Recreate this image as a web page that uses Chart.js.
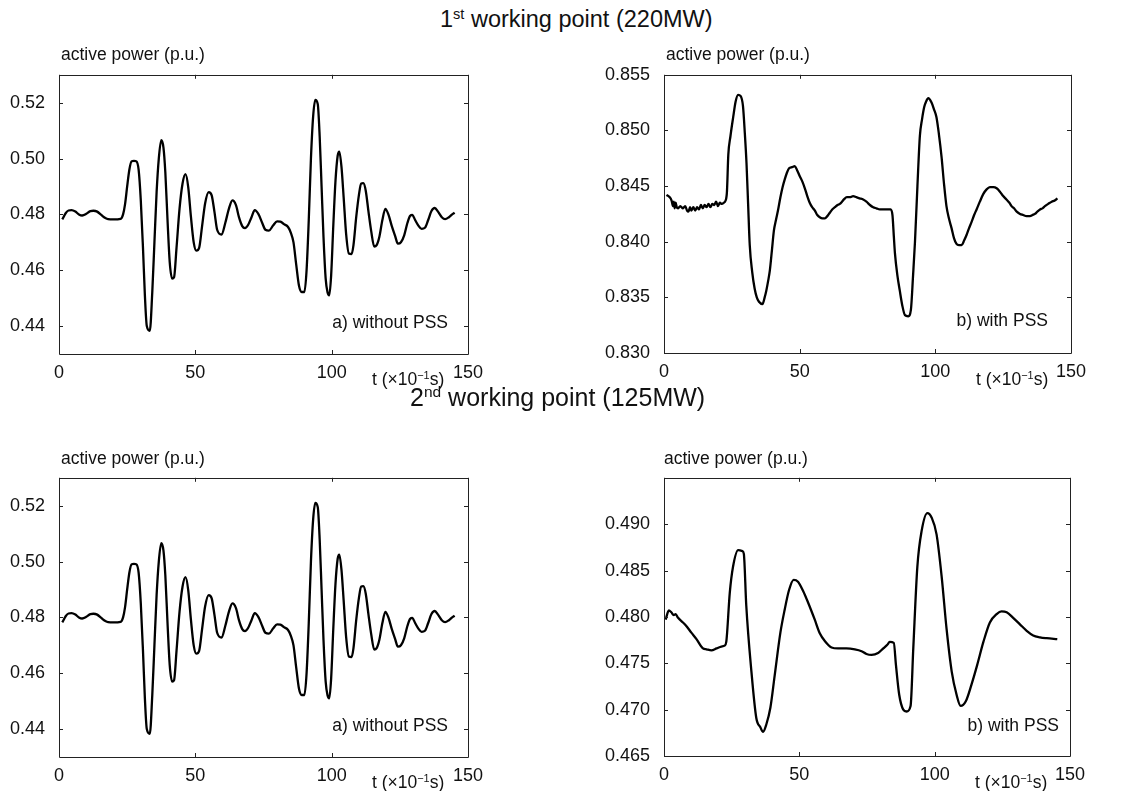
<!DOCTYPE html>
<html>
<head>
<meta charset="utf-8">
<script src="https://cdn.jsdelivr.net/npm/chart.js@4.4.1/dist/chart.umd.min.js"></script>
<style>
  html, body { margin: 0; padding: 0; background: #fff; }
  body { width: 1133px; height: 791px; position: relative; overflow: hidden;
         font-family: "Liberation Sans", Arial, Helvetica, sans-serif; color: #111; }
  .cv { position: absolute; }
  .txt { position: absolute; white-space: nowrap; line-height: 1; }
  .lab { font-size: 17.5px; }
  sup { font-size: 0.62em; vertical-align: 0; position: relative; top: -0.55em; }
</style>
</head>
<body>
<canvas id="c1" class="cv"></canvas>
<canvas id="c2" class="cv"></canvas>
<canvas id="c3" class="cv"></canvas>
<canvas id="c4" class="cv"></canvas>

<div class="txt" style="left:440px; top:8px; font-size:23.5px;">1<sup>st</sup> working point (220MW)</div>
<div class="txt" style="left:410px; top:385px; font-size:25px;">2<sup>nd</sup> working point (125MW)</div>

<div class="txt lab" style="left:61px; top:46px;">active power (p.u.)</div>
<div class="txt lab" style="left:666px; top:46px;">active power (p.u.)</div>
<div class="txt lab" style="left:61px; top:450px;">active power (p.u.)</div>
<div class="txt lab" style="left:664px; top:450px;">active power (p.u.)</div>

<div class="txt lab" style="left:372px; top:371px;">t (×10<sup>−1</sup>s)</div>
<div class="txt lab" style="left:976px; top:371px;">t (×10<sup>−1</sup>s)</div>
<div class="txt lab" style="left:372px; top:774px;">t (×10<sup>−1</sup>s)</div>
<div class="txt lab" style="left:975px; top:774px;">t (×10<sup>−1</sup>s)</div>

<div class="txt lab" style="right:685px; top:314px;">a) without PSS</div>
<div class="txt lab" style="right:85px; top:312px;">b) with PSS</div>
<div class="txt lab" style="right:685px; top:717px;">a) without PSS</div>
<div class="txt lab" style="right:74px; top:717px;">b) with PSS</div>

<script>
// ---------------- DATA ----------------
// time axis ticks (x10^-1 s)
const xTicks = [0, 50, 100, 150];

// Panel a) 220MW / 125MW without PSS (both panels show the same response)
const tA = [1.2, 2.5, 3.5, 4.6, 6, 7.3, 8.5, 10, 11.5, 12.6, 14, 15.5, 17, 18, 20, 22.6, 23.5, 24.2, 25, 25.8, 26.6, 27.5, 28.4,
  29.2, 30, 30.8, 31.5, 32.2, 33.3, 34.2, 35, 35.8, 36.6, 37.5, 38.3, 39, 39.8, 40.6, 41.5, 42.2,
  43.1, 44.2, 45.3, 46.4, 47.4, 48.4, 49.4, 50.4, 51.4, 52.5, 53.6, 54.9, 56, 57, 58, 59.6, 61, 62.3, 63.6, 64.9, 66, 67.2, 68.2, 69.4,
  70.6, 71.8, 73.2, 74.5, 75.7, 77, 78.5, 80, 81.2, 82.5, 84, 85, 86, 87, 88, 89, 90, 90.8, 91.6, 92.4, 93.2, 94, 94.9, 95.6, 96.3, 97,
  97.8, 98.5, 99.1, 99.8, 100.6, 101.4, 102.2, 102.8, 103.6, 104.4, 105.3, 106.3, 107.3, 108, 109, 110, 110.8, 111.6, 112.5, 113.5,
  114.5, 115.6, 116.5, 117.5, 118.6, 119.7, 120.8, 122, 123.2, 124.3, 125.4, 126.6, 127.8, 128.8, 129.6, 130.6, 131.8, 133, 134.2,
  135.4, 136.6, 137.8, 139, 140.4, 141.6, 143, 144.2, 145.1];
const pA = [0.4782, 0.4805, 0.4814, 0.4815, 0.4810, 0.4800, 0.4796, 0.4802, 0.4812, 0.4813, 0.4810, 0.4798, 0.4787, 0.4783, 0.4782, 0.4784, 0.4800, 0.4835, 0.4900, 0.4960, 0.4990, 0.4992, 0.4990,
  0.4960, 0.4850, 0.4680, 0.4510, 0.4400, 0.4383, 0.4520, 0.4700, 0.4880, 0.5000, 0.5066, 0.5040, 0.4950, 0.4780, 0.4630, 0.4570, 0.4575,
  0.4680, 0.4820, 0.4910, 0.4944, 0.4897, 0.4790, 0.4700, 0.4670, 0.4680, 0.4760, 0.4840, 0.4880, 0.4868, 0.4810, 0.4745, 0.4728, 0.4770, 0.4820, 0.4850, 0.4833, 0.4790, 0.4758, 0.4751, 0.4763,
  0.4790, 0.4815, 0.4800, 0.4770, 0.4745, 0.4742, 0.4760, 0.4775, 0.4774, 0.4765, 0.4755, 0.4735, 0.4700, 0.4620, 0.4545, 0.4522, 0.4522, 0.4600, 0.4780, 0.5000, 0.5150, 0.5210, 0.5195, 0.5080, 0.4900, 0.4720,
  0.4570, 0.4520, 0.4510, 0.4580, 0.4760, 0.4920, 0.5010, 0.5025, 0.4970, 0.4860, 0.4730, 0.4660, 0.4658, 0.4690, 0.4790, 0.4870, 0.4910, 0.4912, 0.4885, 0.4810,
  0.4740, 0.4685, 0.4690, 0.4720, 0.4780, 0.4820, 0.4800, 0.4760, 0.4725, 0.4695, 0.4700, 0.4725, 0.4770, 0.4795, 0.4798, 0.4780, 0.4760, 0.4748, 0.4752,
  0.4780, 0.4812, 0.4823, 0.4810, 0.4790, 0.4783, 0.4790, 0.4800, 0.4806];
const yTicksA = [0.44, 0.46, 0.48, 0.50, 0.52];

// Panel b) 220MW with PSS
const tB = [0.9, 2.1, 2.8, 3.3, 3.6, 3.9, 4.3, 4.7, 5.2, 6, 7, 7.8, 8.5, 9.0, 9.6, 10.1, 10.8, 11.5, 12.2, 12.9, 13.6, 14.3, 15, 15.7, 16.4, 17.1, 17.8, 18.5, 19.2, 19.9, 20.6, 21.3, 22, 22.7,
  23.2, 23.7, 24.5, 25.5, 26.4, 27.3, 28.2, 29.1, 29.8, 30.4, 31, 31.6, 32.5, 33.4, 34.2, 35, 36.3, 37.1, 37.7, 38.4, 39, 39.8, 40.5, 41.3, 42, 42.9, 43.7, 44.5, 45.3, 46.1, 47.2, 48.2, 49.1,
  50, 51, 51.9, 52.8, 53.7, 54.6, 55.6, 56.5, 57.4, 58.4, 59.3, 60.2, 61.1, 62, 63, 64, 64.8, 65.6, 66.3, 67.4, 68.5, 69.7, 70.9, 72.1, 73.4, 74.6, 75.9, 77.1, 78.3, 79.5, 80.8, 82.2, 83.5,
  84.2, 84.7, 85.1, 86, 86.9, 87.8, 88.8, 90, 91, 91.8, 92.5, 93.4, 94.3, 95.1, 95.9, 96.6, 97.4, 98.6, 99.5, 100.4, 101.3, 102.3, 103.2, 104.1, 105, 106, 106.9, 107.8, 108.7, 109.7,
  110.6, 111.5, 112.4, 113.4, 114.3, 115.2, 116.4, 117.7, 118.9, 120.1, 121.4, 122.6, 123.8, 125, 126.2, 127.3, 128.1, 129, 130, 131.2, 132.4, 133.6, 134.9, 135.8, 136.7, 137.6, 138.6,
  139.5, 140.4, 141.6, 142.9, 144, 145];
const pB = [0.8442, 0.8440, 0.8437, 0.8432, 0.8436, 0.8430, 0.8435, 0.8431, 0.8430, 0.8432, 0.8430, 0.8432, 0.8428, 0.8427, 0.8431, 0.8428, 0.8431, 0.8428, 0.8431, 0.8429, 0.8433, 0.8430, 0.8433, 0.8431, 0.8434, 0.8431, 0.8434, 0.8433, 0.8436, 0.8432, 0.8435, 0.8434, 0.8435, 0.8437,
  0.8445, 0.8478, 0.8495, 0.8512, 0.8526, 0.8532, 0.8531, 0.8522, 0.8497, 0.8471, 0.8434, 0.8397, 0.8373, 0.8358, 0.8350, 0.8346, 0.8344, 0.8350, 0.8356, 0.8365, 0.8374, 0.8393, 0.8410, 0.8420, 0.8428, 0.8440, 0.8449, 0.8456, 0.8462, 0.8466, 0.8467, 0.8468, 0.8464,
  0.8459, 0.8454, 0.8448, 0.8441, 0.8435, 0.8431, 0.8428, 0.8424, 0.8422, 0.8421, 0.8421, 0.8423, 0.8426, 0.8429, 0.8431, 0.8433, 0.8434, 0.8436, 0.8438, 0.8440, 0.8440, 0.8441, 0.8440, 0.8439, 0.8438, 0.8436, 0.8433, 0.8431, 0.8430, 0.8429, 0.8429, 0.8429, 0.8429,
  0.8424, 0.8405, 0.8390, 0.8370, 0.8356, 0.8343, 0.8334, 0.8333, 0.8339, 0.8370, 0.8400, 0.8450, 0.8495, 0.8510, 0.8521, 0.8526, 0.8529, 0.8525, 0.8519, 0.8512, 0.8497, 0.8476, 0.8452, 0.8432, 0.8421, 0.8412, 0.8403, 0.8398, 0.8397, 0.8397,
  0.8401, 0.8406, 0.8412, 0.8418, 0.8424, 0.8429, 0.8436, 0.8443, 0.8447, 0.8449, 0.8449, 0.8448, 0.8445, 0.8441, 0.8438, 0.8435, 0.8432, 0.8430, 0.8427, 0.8425, 0.8424, 0.8423, 0.8423, 0.8424, 0.8425, 0.8427, 0.8429,
  0.8430, 0.8432, 0.8434, 0.8436, 0.8437, 0.8439];
const yTicksB = [0.830, 0.835, 0.840, 0.845, 0.850, 0.855];

// Panel b) 125MW with PSS
const tD = [0.6, 1.8, 2.7, 3.6, 4.3, 5.2, 7, 8, 10.1, 12, 14.4, 15.7, 17.5, 19.4, 21.2, 22.4, 23, 24.3, 25.5, 27.4, 29, 29.5, 30.4, 32.3, 34.1, 35.6, 36.6, 37.8, 39.3, 40.9, 43, 44.6, 46.2, 47.9, 49.5,
  51.4, 53.3, 55.7, 57.6, 59.4, 61.9, 64.3, 67.4, 70.5, 73, 74.8, 76.7, 79.1, 81, 82.5, 83.4, 84.9, 85.7, 86.9, 88.4, 89.6, 91.1, 92.1, 93.6, 95.2, 97.3, 98.9, 100.7, 102.6, 104.4, 106.3,
  108.1, 109.6, 111.5, 113.6, 115.7, 118, 120.4, 122.9, 124.7, 126.6, 129, 131.5, 134, 136.4, 138.9, 141.4, 145.3];
const pD = [0.4797, 0.4807, 0.4805, 0.4802, 0.4803, 0.4799, 0.4794, 0.4791, 0.4783, 0.4776, 0.4766, 0.4765, 0.4764, 0.4766, 0.4768, 0.4769, 0.4773, 0.4826, 0.4854, 0.4872, 0.4871, 0.4868, 0.4812, 0.4741, 0.4691, 0.4681, 0.4676, 0.4684, 0.4702, 0.4737, 0.4783, 0.4808, 0.4829, 0.4840, 0.4838,
  0.4828, 0.4815, 0.4797, 0.4782, 0.4774, 0.4767, 0.4766, 0.4766, 0.4765, 0.4763, 0.4760, 0.4759, 0.4761, 0.4766, 0.4770, 0.4773, 0.4772, 0.4748, 0.4716, 0.4700, 0.4698, 0.4704, 0.4766, 0.4854, 0.4893, 0.4912, 0.4907, 0.4889, 0.4843, 0.4787, 0.4741,
  0.4716, 0.4704, 0.4709, 0.4727, 0.4748, 0.4773, 0.4794, 0.4803, 0.4806, 0.4805, 0.4799, 0.4792, 0.4785, 0.4780, 0.4778, 0.4777, 0.4776];
const yTicksD = [0.465, 0.470, 0.475, 0.480, 0.485, 0.490];

// ---------------- CHARTS ----------------
const FONT = '"Liberation Sans", Arial, Helvetica, sans-serif';

const frameTicks = {
  id: 'frameTicks',
  afterDraw(chart) {
    const { ctx, chartArea: a, scales } = chart;
    const L = 4;
    ctx.save();
    ctx.strokeStyle = '#222';
    ctx.lineWidth = 1;
    ctx.beginPath();
    ctx.rect(Math.round(a.left) + 0.5, Math.round(a.top) + 0.5,
             Math.round(a.right - a.left), Math.round(a.bottom - a.top));
    scales.x.ticks.forEach(t => {
      const px = Math.round(scales.x.getPixelForValue(t.value)) + 0.5;
      ctx.moveTo(px, a.bottom); ctx.lineTo(px, a.bottom - L);
      ctx.moveTo(px, a.top); ctx.lineTo(px, a.top + L);
    });
    scales.y.ticks.forEach(t => {
      const py = Math.round(scales.y.getPixelForValue(t.value)) + 0.5;
      ctx.moveTo(a.left, py); ctx.lineTo(a.left + L, py);
      ctx.moveTo(a.right, py); ctx.lineTo(a.right - L, py);
    });
    ctx.stroke();
    ctx.restore();
  }
};

function makeChart(id, box, t, p, yMin, yMax, yTicks, decimals, yWidth, pad) {
  const cv = document.getElementById(id);
  cv.style.left = box.left + 'px';
  cv.style.top = box.top + 'px';
  cv.style.width = box.width + 'px';
  cv.style.height = box.height + 'px';
  cv.width = box.width; cv.height = box.height;
  const pts = t.map((x, i) => ({ x: x, y: p[i] }));
  return new Chart(cv, {
    type: 'line',
    data: { datasets: [{ data: pts, borderColor: '#000', borderWidth: 2.3, pointRadius: 0,
                         cubicInterpolationMode: 'monotone', fill: false }] },
    options: {
      responsive: false, animation: false, devicePixelRatio: 1,
      layout: { padding: pad },
      plugins: { legend: { display: false }, tooltip: { enabled: false } },
      scales: {
        x: {
          type: 'linear', min: 0, max: 150,
          border: { display: false },
          grid: { display: false, drawTicks: false },
          afterBuildTicks: s => { s.ticks = xTicks.map(v => ({ value: v })); },
          afterFit: s => { s.height = 30; },
          ticks: { padding: 8, color: '#111', font: { family: FONT, size: 18 }, maxRotation: 0,
                   callback: v => String(v) }
        },
        y: {
          type: 'linear', min: yMin, max: yMax,
          border: { display: false },
          grid: { display: false, drawTicks: false },
          afterBuildTicks: s => { s.ticks = yTicks.map(v => ({ value: v })); },
          afterFit: s => { s.width = yWidth; },
          ticks: { padding: 14, color: '#111', font: { family: FONT, size: 18 },
                   callback: v => Number(v).toFixed(decimals) }
        }
      }
    },
    plugins: [frameTicks]
  });
}

makeChart('c1', { left: 0, top: 50, width: 500, height: 340 }, tA, pA, 0.43, 0.53, yTicksA, 2, 59,
          { top: 20, right: 32, bottom: 6, left: 0 });
makeChart('c2', { left: 580, top: 50, width: 520, height: 340 }, tB, pB, 0.830, 0.855, yTicksB, 3, 84,
          { top: 20, right: 29, bottom: 7, left: 0 });
makeChart('c3', { left: 0, top: 453, width: 500, height: 338 }, tA, pA, 0.43, 0.53, yTicksA, 2, 59,
          { top: 20, right: 32, bottom: 4, left: 0 });
makeChart('c4', { left: 580, top: 453, width: 520, height: 338 }, tD, pD, 0.465, 0.495, yTicksD, 3, 84,
          { top: 20, right: 30, bottom: 5, left: 0 });
</script>
</body>
</html>
